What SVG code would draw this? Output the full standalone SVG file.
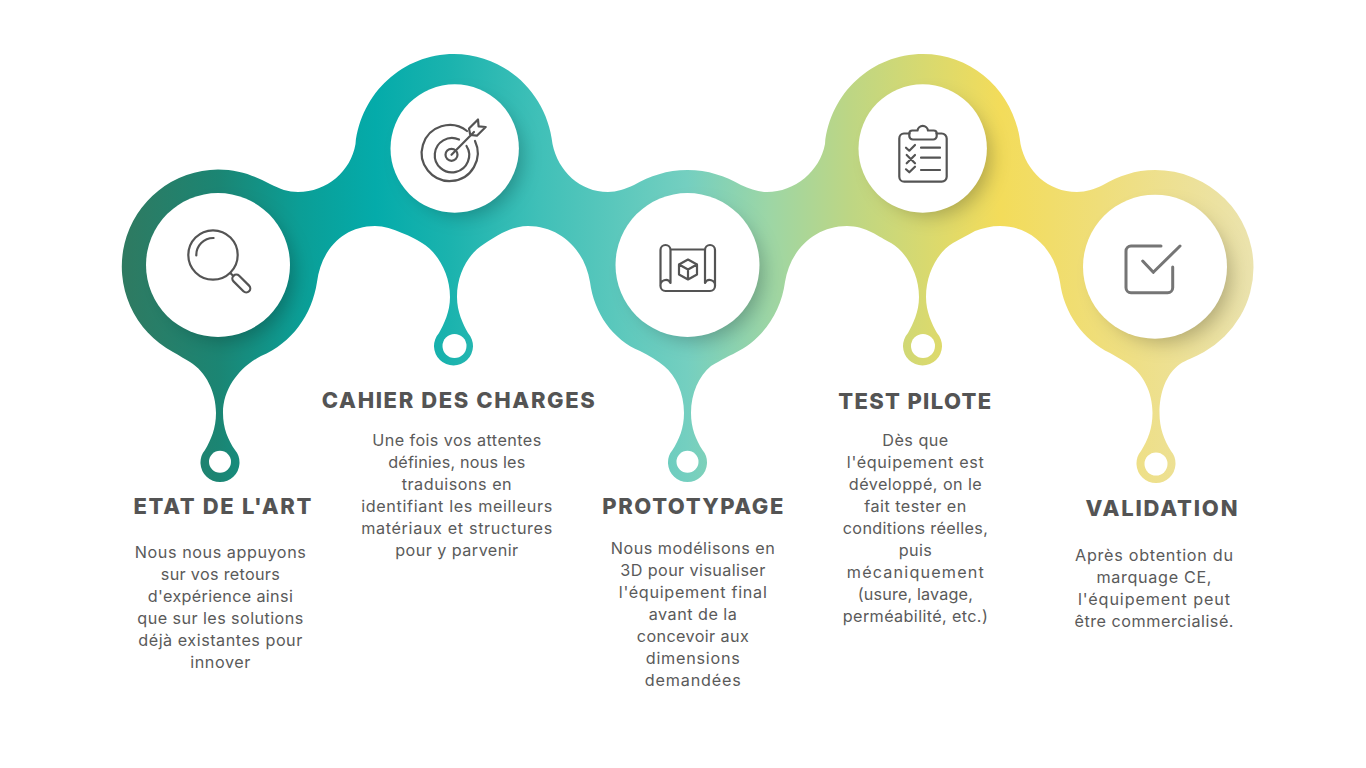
<svg xmlns="http://www.w3.org/2000/svg" width="1366" height="768" viewBox="0 0 1366 768">
<style>
.t{font-family:"Inter","Liberation Sans",sans-serif;font-weight:800;font-size:22px;fill:#545454;text-anchor:middle}
.b{font-family:"Inter","Liberation Sans",sans-serif;font-weight:400;font-size:16.2px;fill:#5a5a5a;text-anchor:middle}
.i{fill:none;stroke:#545454;stroke-width:2.2;stroke-linecap:round;stroke-linejoin:round}
.c{fill:#fff}
.s{fill:#000;fill-opacity:.26;filter:url(#blur)}
</style>
<defs>
<linearGradient id="rib" gradientUnits="userSpaceOnUse" x1="122" y1="0" x2="1254" y2="0">
<stop offset="0" stop-color="#2f7a61"/>
<stop offset=".085" stop-color="#1b8573"/>
<stop offset=".157" stop-color="#0b9e96"/>
<stop offset=".224" stop-color="#04abaa"/>
<stop offset=".29" stop-color="#1bb3ae"/>
<stop offset=".369" stop-color="#40c0b8"/>
<stop offset=".499" stop-color="#74cfc0"/>
<stop offset=".572" stop-color="#9dd6a5"/>
<stop offset=".643" stop-color="#bdd684"/>
<stop offset=".776" stop-color="#f3dc5a"/>
<stop offset=".864" stop-color="#efde7a"/>
<stop offset="1" stop-color="#ebe3ae"/>
</linearGradient>
<filter id="blur" x="-30%" y="-30%" width="160%" height="160%"><feGaussianBlur stdDeviation="10"/></filter>
<path id="ribbon" d="M218,169.5 C239,169.5 255,176 270,184 C280,189 288,192 298,192 C327,192 351,171 355.5,144 C361,93 403,54 454,54 C505,54 547,93 552.5,144 C558,171 580,192 608,192 C617,192 625,189 634,185 C650,176 667,170 687.5,170 C708,170 725,176 741,185 C750,189 758,192 767,192 C795,192 820,171 825,144 C830,93 872,54 923,54 C974,54 1015,93 1020.5,144 C1026,171 1048,192 1077,192 C1086,192 1095,189 1103,185 C1119,176 1135,170 1155,170 A98.5,97.5 0 0 1 1253.5,267.5 A98.5,97.5 0 0 1 1204,352 C1195,357 1186,360 1180,364 C1166,374 1159.5,393 1159.5,413 C1159.5,428 1164,440 1171,451 A19.5,19.5 0 1 1 1141,451 C1148,440 1152.5,428 1152.5,413 C1152.5,392 1143,373 1127,363 C1121,359 1115,356 1110,353 C1083,340 1064,313 1060,282 C1055,250 1032,226 1000,226 C991,226 983,228 975,231 C968,235 960,239 953,243 C938,252 926,273 926,297 C926,312 932,324 937,333 A19.5,19.5 0 1 1 908,333 C913,324 919,312 919,297 C919,273 906,252 891,243 C879,237 866,226 847,226 C815,226 790,250 785,282 C781,313 762,340 735,353 C729,356 723,359 711,366 C699,376 691,393 691,413 C691,428 696,440 702.5,450 A19.5,19.5 0 1 1 672.5,450 C679,440 684,428 684,413 C684,393 676,376 664,366 C658,361 650,356 640,351 C613,340 594,313 590,282 C585,250 560,226 528,226 C519,226 510,229 502,233 C496,236 490,240 484,244 C469,253 457,273 457,297 C457,312 463,324 468,333 A19.5,19.5 0 1 1 439,333 C444,324 450,312 450,297 C450,273 437,252 422,243 C416,239 410,236 402,233 C393,229 384,226 375,226 C343,226 321,250 317,282 C312,315 292,343 261,356 C240,367 223,388 223,413 C223,428 228,440 235,450 A19.5,19.5 0 1 1 205,450 C211,440 216,428 216,413 C216,392 206,372 190,362 C185,359 180,356 173,352 A97,97 0 0 1 218,169.5 Z"/>
<clipPath id="ribClip"><use href="#ribbon"/></clipPath>
</defs>
<rect width="1366" height="768" fill="#fff"/>
<g id="connectors">
<use href="#ribbon" fill="url(#rib)"/>
<g clip-path="url(#ribClip)">
<circle class="s" cx="227" cy="274" r="66"/>
<circle class="s" cx="463" cy="157" r="58"/>
<circle class="s" cx="696.5" cy="274" r="66"/>
<circle class="s" cx="932" cy="157" r="58"/>
<circle class="s" cx="1164" cy="276" r="66"/>
</g>
</g>
<g id="node-etat">
<circle class="c" cx="218" cy="265" r="72"/>
<circle class="c" cx="220" cy="461.7" r="11"/>
<circle class="i" cx="213" cy="255" r="24.7"/>
<path class="i" d="M196.3,255.5 A17,17 0 0 1 213.6,238 M230.3,273 L233.3,276"/>
<rect class="i" x="-11" y="-4" width="22" height="8" rx="4" transform="translate(241.3,283.5) rotate(45)"/>
<text class="t" x="222.5" y="514" textLength="178" lengthAdjust="spacing">ETAT DE L'ART</text>
<text class="b" x="220.3" y="558" textLength="171" lengthAdjust="spacing">Nous nous appuyons</text>
<text class="b" x="220.3" y="580" textLength="119" lengthAdjust="spacing">sur vos retours</text>
<text class="b" x="220.3" y="602" textLength="145" lengthAdjust="spacing">d'expérience ainsi</text>
<text class="b" x="220.3" y="624" textLength="166" lengthAdjust="spacing">que sur les solutions</text>
<text class="b" x="220.3" y="646" textLength="164" lengthAdjust="spacing">déjà existantes pour</text>
<text class="b" x="220.3" y="668" textLength="60" lengthAdjust="spacing">innover</text>
</g>
<g id="node-cahier">
<circle class="c" cx="454.7" cy="148.5" r="64.2"/>
<circle class="c" cx="454.5" cy="346" r="12"/>
<path class="i" d="M467,131 A28,28 0 1 0 475,141 M459,139.5 A17.2,17.2 0 1 0 466.5,146"/>
<circle class="i" cx="451.5" cy="154.8" r="6"/>
<path class="i" d="M451.5,154.8 L474,132 M469,128.6 L478,119.5 L478.6,126.4 L485.7,127 L476.9,135.7 L470.3,135 Z"/>
<text class="t" x="458.3" y="408" textLength="273" lengthAdjust="spacing">CAHIER DES CHARGES</text>
<text class="b" x="456.7" y="446" textLength="169" lengthAdjust="spacing">Une fois vos attentes</text>
<text class="b" x="456.7" y="468" textLength="137" lengthAdjust="spacing">définies, nous les</text>
<text class="b" x="456.7" y="490" textLength="110" lengthAdjust="spacing">traduisons en</text>
<text class="b" x="456.7" y="512" textLength="191" lengthAdjust="spacing">identifiant les meilleurs</text>
<text class="b" x="456.7" y="534" textLength="191" lengthAdjust="spacing">matériaux et structures</text>
<text class="b" x="456.7" y="556" textLength="123" lengthAdjust="spacing">pour y parvenir</text>
</g>
<g id="node-prototypage">
<circle class="c" cx="687.5" cy="265" r="72"/>
<circle class="c" cx="687.5" cy="461.7" r="11"/>
<path class="i" d="M660.5,286 V250 A5,5 0 0 1 670.5,250 V283 A5.3,5.3 0 0 0 660.5,286 A5,5 0 0 0 665.5,291 H710 A5,5 0 0 0 715,286 V250 A5,5 0 0 0 705,250 V283 A5.3,5.3 0 0 1 715,286 M670.5,249.5 H705"/>
<path class="i" d="M688,259.5 L697,264.5 V274.5 L688,279.5 L679,274.5 V264.5 Z M679,264.5 L688,269.5 L697,264.5 M688,269.5 V279.5"/>
<text class="t" x="692.8" y="514" textLength="181" lengthAdjust="spacing">PROTOTYPAGE</text>
<text class="b" x="692.8" y="554" textLength="164" lengthAdjust="spacing">Nous modélisons en</text>
<text class="b" x="692.8" y="576" textLength="145" lengthAdjust="spacing">3D pour visualiser</text>
<text class="b" x="692.8" y="598" textLength="148" lengthAdjust="spacing">l'équipement final</text>
<text class="b" x="692.8" y="620" textLength="88" lengthAdjust="spacing">avant de la</text>
<text class="b" x="692.8" y="642" textLength="112" lengthAdjust="spacing">concevoir aux</text>
<text class="b" x="692.8" y="664" textLength="94" lengthAdjust="spacing">dimensions</text>
<text class="b" x="692.8" y="686" textLength="96" lengthAdjust="spacing">demandées</text>
</g>
<g id="node-test">
<circle class="c" cx="922.7" cy="148.5" r="64.2"/>
<circle class="c" cx="923" cy="346" r="12"/>
<path class="i" d="M909.5,133.5 H904 A5,5 0 0 0 899.3,138.5 V176.7 A5,5 0 0 0 904.3,181.7 H941.7 A5,5 0 0 0 946.7,176.7 V138.5 A5,5 0 0 0 941.7,133.5 H936.5"/>
<path class="i" d="M909.3,133 A3,3 0 0 1 912.3,130.5 H917.5 A5.3,5.3 0 0 1 928,130.5 H933.7 A3,3 0 0 1 936.7,133.5 V136 A3.5,3.5 0 0 1 933.2,139.5 H912.8 A3.5,3.5 0 0 1 909.3,136 Z"/>
<path class="i" d="M921,147.7 H940 M921,157.7 H940 M921,170 H940 M906,147.7 L909.3,150.7 L915,145 M906.7,155 L915,163.3 M915,155 L906.7,163.3 M906,169.3 L909.3,172.3 L915,166.7"/>
<text class="t" x="914.7" y="409" textLength="153" lengthAdjust="spacing">TEST PILOTE</text>
<text class="b" x="915.3" y="446" textLength="66" lengthAdjust="spacing">Dès que</text>
<text class="b" x="915.3" y="468" textLength="137" lengthAdjust="spacing">l'équipement est</text>
<text class="b" x="915.3" y="490" textLength="133" lengthAdjust="spacing">développé, on le</text>
<text class="b" x="915.3" y="512" textLength="102" lengthAdjust="spacing">fait tester en</text>
<text class="b" x="915.3" y="534" textLength="145" lengthAdjust="spacing">conditions réelles,</text>
<text class="b" x="915.3" y="556" textLength="33" lengthAdjust="spacing">puis</text>
<text class="b" x="915.3" y="578" textLength="137" lengthAdjust="spacing">mécaniquement</text>
<text class="b" x="915.3" y="600" textLength="115" lengthAdjust="spacing">(usure, lavage,</text>
<text class="b" x="915.3" y="622" textLength="145" lengthAdjust="spacing">perméabilité, etc.)</text>
</g>
<g id="node-validation">
<circle class="c" cx="1155" cy="266.7" r="72"/>
<circle class="c" cx="1156" cy="464" r="11.5"/>
<path class="i" style="stroke:#757575;stroke-width:3" d="M1161,246 H1131 A5,5 0 0 0 1126,251 V287.7 A5,5 0 0 0 1131,292.7 H1167.7 A5,5 0 0 0 1172.7,287.7 V267 M1142.7,261 L1153.3,272.3 L1180,246"/>
<text class="t" x="1161.5" y="516" textLength="152" lengthAdjust="spacing">VALIDATION</text>
<text class="b" x="1154" y="561" textLength="158" lengthAdjust="spacing">Après obtention du</text>
<text class="b" x="1154" y="583" textLength="115" lengthAdjust="spacing">marquage CE,</text>
<text class="b" x="1154" y="605" textLength="152" lengthAdjust="spacing">l'équipement peut</text>
<text class="b" x="1154" y="627" textLength="159" lengthAdjust="spacing">être commercialisé.</text>
</g>
</svg>
